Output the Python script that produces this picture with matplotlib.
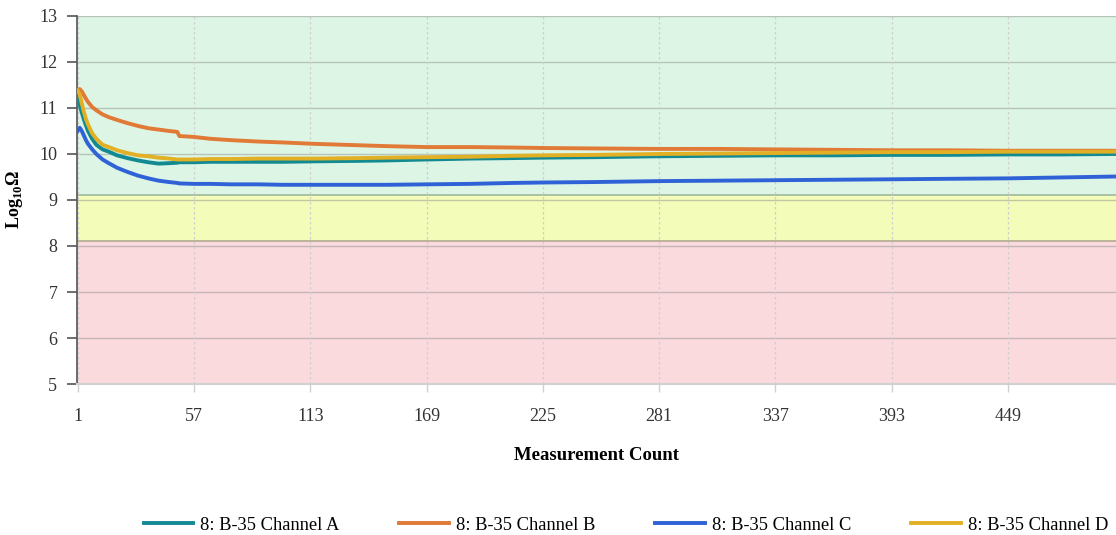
import matplotlib
matplotlib.use("Agg")
from matplotlib import pyplot as plt

plt.rcParams['font.family'] = ['Liberation Serif', 'DejaVu Serif']
plt.rcParams['mathtext.fontset'] = 'custom'
plt.rcParams['mathtext.rm'] = 'Liberation Serif'
plt.rcParams['mathtext.bf'] = 'Liberation Serif:bold'

# measurement numbers where the readings were sampled
counts = [1, 2, 3, 4, 5, 6, 8, 10, 13, 16, 20, 25, 30, 35, 40, 45, 49, 50,
          57, 65, 75, 88, 100, 115, 136, 150, 169, 190, 210, 225, 250, 281,
          310, 337, 365, 393, 420, 449, 475, 501]

channel_a = [11.20, 11.05, 10.90, 10.75, 10.62, 10.50, 10.33, 10.20, 10.10, 10.05,
             9.97, 9.91, 9.86, 9.82, 9.79, 9.80, 9.81, 9.82,
             9.82, 9.83, 9.83, 9.83, 9.83, 9.84, 9.85, 9.86, 9.88, 9.90,
             9.91, 9.92, 9.93, 9.95, 9.96, 9.97, 9.97, 9.98, 9.98, 9.99, 9.99, 10.00]

channel_b = [11.38, 11.41, 11.36, 11.28, 11.20, 11.13, 11.02, 10.95, 10.86, 10.80,
             10.74, 10.67, 10.61, 10.56, 10.53, 10.50, 10.48, 10.39,
             10.37, 10.33, 10.30, 10.27, 10.25, 10.22, 10.19, 10.17, 10.15, 10.15,
             10.14, 10.13, 10.12, 10.11, 10.11, 10.10, 10.09, 10.08, 10.08, 10.07, 10.07, 10.07]

channel_c = [10.50, 10.57, 10.50, 10.40, 10.30, 10.22, 10.10, 10.00, 9.88, 9.80,
             9.70, 9.61, 9.53, 9.47, 9.42, 9.39, 9.37, 9.36,
             9.35, 9.35, 9.34, 9.34, 9.33, 9.33, 9.33, 9.33, 9.34, 9.35,
             9.37, 9.38, 9.39, 9.41, 9.42, 9.43, 9.44, 9.45, 9.46, 9.47, 9.49, 9.51]

channel_d = [11.38, 11.30, 11.10, 10.92, 10.76, 10.64, 10.45, 10.33, 10.20, 10.15,
             10.08, 10.02, 9.97, 9.95, 9.92, 9.90, 9.88, 9.88,
             9.88, 9.89, 9.89, 9.90, 9.90, 9.90, 9.91, 9.92, 9.93, 9.94,
             9.96, 9.97, 9.98, 10.00, 10.01, 10.02, 10.03, 10.04, 10.04, 10.05, 10.05, 10.05]

series = [
    ("8: B-35 Channel A", channel_a, "#138a92"),
    ("8: B-35 Channel B", channel_b, "#e07a36"),
    ("8: B-35 Channel C", channel_c, "#2f62d6"),
    ("8: B-35 Channel D", channel_d, "#e2b024"),
]

xticks = [1, 57, 113, 169, 225, 281, 337, 393, 449]

fig = plt.figure(figsize=(11.16, 5.35), dpi=100)
ax = fig.add_axes([0.069, 0.2822, 0.931, 0.688])

# quality zones
ax.axhspan(9.1, 13, color="#ddf5e5", zorder=0)
ax.axhspan(8.1, 9.1, color="#f3fcb9", zorder=0)
ax.axhspan(5, 8.1, color="#fadadd", zorder=0)
ax.axhline(9.1, color="#9fb89f", lw=1.2, zorder=1)
ax.axhline(8.1, color="#b0aa90", lw=1.2, zorder=1)

for y in range(5, 14):
    ax.axhline(y, color="#888888", lw=1.0, alpha=0.45, zorder=1)
for x in xticks:
    ax.axvline(x, color="#cfcfcf", lw=0.9, ls=(0, (2, 2)), zorder=1)

for label, vals, col in series:
    ax.plot(counts, vals, color=col, lw=2.8, label=label, zorder=3,
            solid_joinstyle='round')

ax.set_xlim(0.7, 501)
ax.set_ylim(5, 13)
ax.set_xticks(xticks)
ax.set_yticks(range(5, 14))
ax.tick_params(axis='y', length=7.2, width=1.2, color="#555555", labelsize=13,
               pad=7, labelcolor="#333333")
ax.tick_params(axis='x', length=5.8, width=1, color="#d0d0d0", labelsize=13,
               pad=11.5, labelcolor="#333333")

ax.spines['top'].set_visible(False)
ax.spines['right'].set_visible(False)
ax.spines['left'].set_color("#555555")
ax.spines['left'].set_linewidth(1.2)
ax.spines['bottom'].set_color("#d0d0d0")
ax.spines['bottom'].set_linewidth(1.5)

ax.set_xlabel("Measurement Count", fontsize=13.5, fontweight='bold', labelpad=16)
ax.set_ylabel(r"Log$_{\mathbf{10}}$Ω", fontsize=13, fontweight='bold')
ax.yaxis.set_label_coords(-0.05, 0.5)

fig.legend(loc='center', bbox_to_anchor=(0.561, 0.018), ncol=4, frameon=False,
           fontsize=13.3, handlelength=2.7, handletextpad=0.38, columnspacing=3.23)

fig.savefig("out.png", dpi=100)
